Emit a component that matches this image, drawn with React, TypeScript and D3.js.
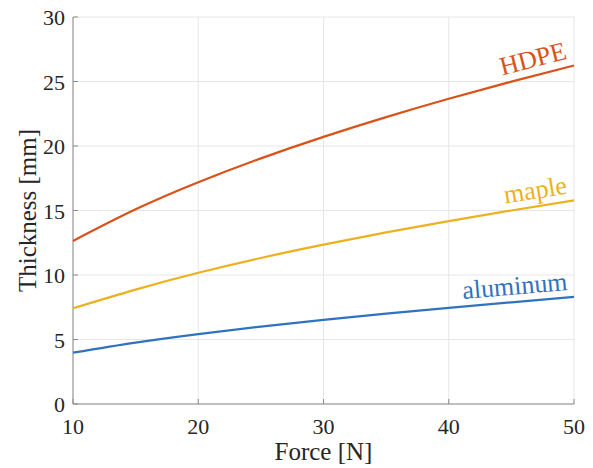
import * as d3 from "d3";

const force = [10, 15, 20, 25, 30, 35, 40, 45, 50];
const hdpe = [12.64, 15.09, 17.19, 19.04, 20.71, 22.24, 23.66, 24.99, 26.24];
const maple = [7.42, 8.87, 10.17, 11.32, 12.35, 13.3, 14.18, 15.0, 15.78];
const aluminum = [3.98, 4.76, 5.42, 6.0, 6.52, 7.0, 7.45, 7.88, 8.3];

const xTicks = [10, 20, 30, 40, 50];
const yTicks = [0, 5, 10, 15, 20, 25, 30];

const series = [
  { name: "HDPE", values: hdpe, color: "#D95319" },
  { name: "maple", values: maple, color: "#EDB120" },
  { name: "aluminum", values: aluminum, color: "#2F73BF" },
];

const W = 593;
const H = 468;
const m = { left: 73, right: 19, top: 17, bottom: 64 };
const font = "'Liberation Serif', 'Times New Roman', serif";

export default function App() {
  const x = d3.scaleLinear().domain([10, 50]).range([m.left, W - m.right]);
  const y = d3.scaleLinear().domain([0, 30]).range([H - m.bottom, m.top]);

  const line = d3
    .line<number>()
    .x((_, i) => x(force[i]))
    .y((v) => y(v))
    .curve(d3.curveNatural);

  const y0 = y(0);
  const x0 = x(10);

  return (
    <svg
      width={W}
      height={H}
      style={{ position: "absolute", left: 0, top: 0, background: "#fff" }}
      fontFamily={font}
    >
      {/* grid */}
      {xTicks.map((t) => (
        <line key={"gx" + t} x1={x(t)} x2={x(t)} y1={y(0)} y2={y(30)} stroke="#e6e6e6" strokeWidth={1} />
      ))}
      {yTicks.map((t) => (
        <line key={"gy" + t} x1={x(10)} x2={x(50)} y1={y(t)} y2={y(t)} stroke="#e6e6e6" strokeWidth={1} />
      ))}

      {/* axes */}
      <line x1={x0} x2={x(50)} y1={y0} y2={y0} stroke="#8a8a8a" strokeWidth={1} />
      <line x1={x0} x2={x0} y1={y0} y2={y(30)} stroke="#8a8a8a" strokeWidth={1} />
      {xTicks.map((t) => (
        <g key={"tx" + t}>
          <line x1={x(t)} x2={x(t)} y1={y0} y2={y0 - 5} stroke="#8a8a8a" />
          <text x={x(t)} y={y0 + 30} textAnchor="middle" fontSize={22} fill="#262626">
            {t}
          </text>
        </g>
      ))}
      {yTicks.map((t) => (
        <g key={"ty" + t}>
          <line x1={x0} x2={x0 + 5} y1={y(t)} y2={y(t)} stroke="#8a8a8a" />
          <text x={x0 - 8} y={y(t) + 8} textAnchor="end" fontSize={22} fill="#262626">
            {t}
          </text>
        </g>
      ))}

      <text x={(x(10) + x(50)) / 2} y={H - 8} textAnchor="middle" fontSize={25} fill="#262626">
        Force [N]
      </text>
      <text
        transform={`translate(36, ${(y(0) + y(30)) / 2}) rotate(-90)`}
        textAnchor="middle"
        fontSize={25}
        fill="#262626"
      >
        Thickness [mm]
      </text>

      {/* curves */}
      {series.map((s) => {
        const n = s.values.length;
        const ax = x(force[n - 1]);
        const ay = y(s.values[n - 1]);
        const bx = x(force[n - 2]);
        const by = y(s.values[n - 2]);
        const angle = (Math.atan2(ay - by, ax - bx) * 180) / Math.PI;
        return (
          <g key={s.name}>
            <path d={line(s.values) ?? ""} fill="none" stroke={s.color} strokeWidth={2.2} />
            <text
              transform={`translate(${ax - 6}, ${ay - 7}) rotate(${angle})`}
              textAnchor="end"
              fontSize={26}
              fill={s.color}
            >
              {s.name}
            </text>
          </g>
        );
      })}
    </svg>
  );
}
